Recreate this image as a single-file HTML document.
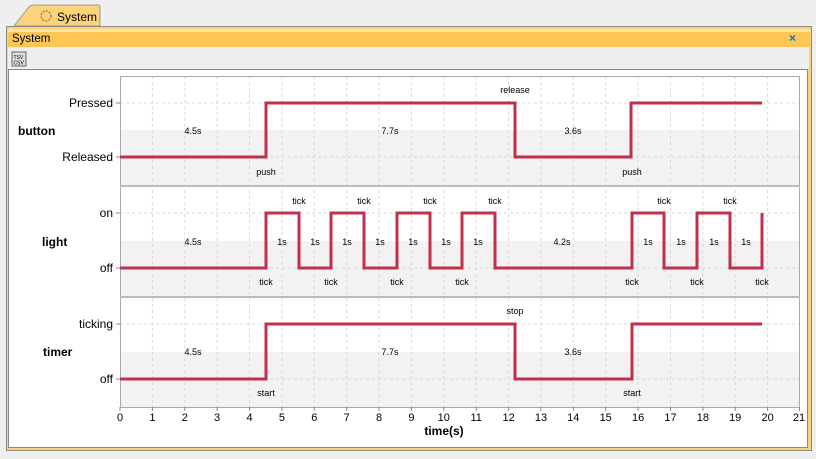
<!DOCTYPE html>
<html><head><meta charset="utf-8"><style>
body{margin:0;width:816px;height:454px;overflow:hidden;background:#efefef;font-family:"Liberation Sans",sans-serif}
</style></head><body>
<svg width="816" height="454" xmlns="http://www.w3.org/2000/svg" font-family="Liberation Sans, sans-serif">
<rect width="816" height="454" fill="#efefef"/>
<!-- tab -->
<path d="M14 26 L28 8 Q30 5 34 5 L98 5 Q100 5 100 8 L100 26 Z" fill="#fcd27a" stroke="#9a9a9a"/>
<circle cx="46" cy="16" r="5" fill="none" stroke="#666" stroke-dasharray="2 1.3"/>
<text x="57" y="21" font-size="12" fill="#000">System</text>
<!-- frame -->
<rect x="6.5" y="26.5" width="805" height="424" fill="#fcd27a" stroke="#8a8a8a"/>
<rect x="8" y="29" width="802" height="18" fill="#fdc553"/>
<rect x="8" y="29" width="802" height="3" fill="#fde3a0"/>
<text x="12" y="42" font-size="11.5" fill="#000">System</text>
<text x="789" y="42" font-size="12" font-weight="bold" fill="#2a66b0">×</text>
<rect x="8" y="47" width="801" height="22" fill="#efefef"/>
<rect x="12" y="52" width="14" height="14" fill="#ddd" stroke="#666"/>
<text x="13.5" y="59" font-size="5" fill="#000">TSV</text><text x="13.5" y="64.5" font-size="5" fill="#000">CSV</text>
<rect x="8.5" y="69.5" width="799" height="378" fill="#fff" stroke="#888"/>
<!-- shading -->
<rect x="120" y="130" width="680" height="56" fill="#f2f2f2"/>
<rect x="120" y="241" width="680" height="56" fill="#f2f2f2"/>
<rect x="120" y="352" width="680" height="55" fill="#f2f2f2"/>
<!-- grid -->
<g stroke="#d8d8d8" stroke-dasharray="3 3">
<line x1="152.4" y1="76" x2="152.4" y2="407"/><line x1="184.8" y1="76" x2="184.8" y2="407"/><line x1="217.1" y1="76" x2="217.1" y2="407"/><line x1="249.5" y1="76" x2="249.5" y2="407"/><line x1="281.9" y1="76" x2="281.9" y2="407"/><line x1="314.3" y1="76" x2="314.3" y2="407"/><line x1="346.7" y1="76" x2="346.7" y2="407"/><line x1="379" y1="76" x2="379" y2="407"/><line x1="411.4" y1="76" x2="411.4" y2="407"/><line x1="443.8" y1="76" x2="443.8" y2="407"/><line x1="476.2" y1="76" x2="476.2" y2="407"/><line x1="508.6" y1="76" x2="508.6" y2="407"/><line x1="541" y1="76" x2="541" y2="407"/><line x1="573.3" y1="76" x2="573.3" y2="407"/><line x1="605.7" y1="76" x2="605.7" y2="407"/><line x1="638.1" y1="76" x2="638.1" y2="407"/><line x1="670.5" y1="76" x2="670.5" y2="407"/><line x1="702.9" y1="76" x2="702.9" y2="407"/><line x1="735.2" y1="76" x2="735.2" y2="407"/><line x1="767.6" y1="76" x2="767.6" y2="407"/>
<line x1="120" y1="103" x2="800" y2="103"/><line x1="120" y1="157" x2="800" y2="157"/>
<line x1="120" y1="213" x2="800" y2="213"/><line x1="120" y1="268" x2="800" y2="268"/>
<line x1="120" y1="324" x2="800" y2="324"/><line x1="120" y1="379" x2="800" y2="379"/>
</g>
<rect x="120.5" y="76.5" width="679" height="331" fill="none" stroke="#aaa"/>
<line x1="120" y1="186" x2="800" y2="186" stroke="#bbb" stroke-width="2"/>
<line x1="120" y1="297" x2="800" y2="297" stroke="#bbb" stroke-width="2"/>
<!-- y ticks -->
<g stroke="#888"><line x1="116" y1="103" x2="120" y2="103"/><line x1="116" y1="157" x2="120" y2="157"/><line x1="116" y1="213" x2="120" y2="213"/><line x1="116" y1="268" x2="120" y2="268"/><line x1="116" y1="324" x2="120" y2="324"/><line x1="116" y1="379" x2="120" y2="379"/></g>
<g font-size="12" text-anchor="end" fill="#000">
<text x="113" y="107">Pressed</text><text x="113" y="161">Released</text>
<text x="113" y="217">on</text><text x="113" y="272">off</text>
<text x="113" y="328">ticking</text><text x="113" y="383">off</text>
</g>
<g font-size="12" font-weight="bold" fill="#000">
<text x="18" y="135">button</text><text x="42" y="246">light</text><text x="43" y="356">timer</text>
<text x="444" y="435" text-anchor="middle">time(s)</text>
</g>
<!-- x ticks -->
<g stroke="#888">
<line x1="120" y1="407" x2="120" y2="411"/><line x1="152.4" y1="407" x2="152.4" y2="411"/><line x1="184.8" y1="407" x2="184.8" y2="411"/><line x1="217.1" y1="407" x2="217.1" y2="411"/><line x1="249.5" y1="407" x2="249.5" y2="411"/><line x1="281.9" y1="407" x2="281.9" y2="411"/><line x1="314.3" y1="407" x2="314.3" y2="411"/><line x1="346.7" y1="407" x2="346.7" y2="411"/><line x1="379" y1="407" x2="379" y2="411"/><line x1="411.4" y1="407" x2="411.4" y2="411"/><line x1="443.8" y1="407" x2="443.8" y2="411"/><line x1="476.2" y1="407" x2="476.2" y2="411"/><line x1="508.6" y1="407" x2="508.6" y2="411"/><line x1="541" y1="407" x2="541" y2="411"/><line x1="573.3" y1="407" x2="573.3" y2="411"/><line x1="605.7" y1="407" x2="605.7" y2="411"/><line x1="638.1" y1="407" x2="638.1" y2="411"/><line x1="670.5" y1="407" x2="670.5" y2="411"/><line x1="702.9" y1="407" x2="702.9" y2="411"/><line x1="735.2" y1="407" x2="735.2" y2="411"/><line x1="767.6" y1="407" x2="767.6" y2="411"/><line x1="799.5" y1="407" x2="799.5" y2="411"/>
</g>
<g font-size="11" text-anchor="middle" fill="#000">
<text x="120" y="421">0</text><text x="152.4" y="421">1</text><text x="184.8" y="421">2</text><text x="217.1" y="421">3</text><text x="249.5" y="421">4</text><text x="281.9" y="421">5</text><text x="314.3" y="421">6</text><text x="346.7" y="421">7</text><text x="379" y="421">8</text><text x="411.4" y="421">9</text><text x="443.8" y="421">10</text><text x="476.2" y="421">11</text><text x="508.6" y="421">12</text><text x="541" y="421">13</text><text x="573.3" y="421">14</text><text x="605.7" y="421">15</text><text x="638.1" y="421">16</text><text x="670.5" y="421">17</text><text x="702.9" y="421">18</text><text x="735.2" y="421">19</text><text x="767.6" y="421">20</text><text x="799" y="421">21</text>
</g>
<!-- series -->
<g fill="none" stroke="#c0304a" stroke-width="3">
<polyline points="120,157 266,157 266,103 515,103 515,157 631,157 631,103 762,103"/>
<polyline points="120,268 266,268 266,213 299,213 299,268 331,268 331,213 364,213 364,268 397,268 397,213 430,213 430,268 462,268 462,213 495,213 495,268 632,268 632,213 664,213 664,268 697,268 697,213 730,213 730,268 762,268 762,213"/>
<polyline points="120,379 266,379 266,324 515,324 515,379 632,379 632,324 762,324"/>
</g>
<!-- annotations -->
<g font-size="9" text-anchor="middle" fill="#000">
<text x="193" y="134">4.5s</text><text x="390" y="134">7.7s</text><text x="573" y="134">3.6s</text>
<text x="266" y="175">push</text><text x="515" y="93">release</text><text x="632" y="175">push</text>
<text x="193" y="245">4.5s</text><text x="562" y="245">4.2s</text>
<text x="282" y="245">1s</text><text x="315" y="245">1s</text><text x="347" y="245">1s</text><text x="380" y="245">1s</text><text x="413" y="245">1s</text><text x="446" y="245">1s</text><text x="478" y="245">1s</text>
<text x="648" y="245">1s</text><text x="681" y="245">1s</text><text x="714" y="245">1s</text><text x="746" y="245">1s</text>
<text x="266" y="285">tick</text><text x="331" y="285">tick</text><text x="397" y="285">tick</text><text x="462" y="285">tick</text><text x="632" y="285">tick</text><text x="697" y="285">tick</text><text x="762" y="285">tick</text>
<text x="299" y="204">tick</text><text x="364" y="204">tick</text><text x="430" y="204">tick</text><text x="495" y="204">tick</text><text x="664" y="204">tick</text><text x="730" y="204">tick</text>
<text x="193" y="355">4.5s</text><text x="390" y="355">7.7s</text><text x="573" y="355">3.6s</text>
<text x="266" y="396">start</text><text x="515" y="314">stop</text><text x="632" y="396">start</text>
</g>
</svg>
</body></html>
